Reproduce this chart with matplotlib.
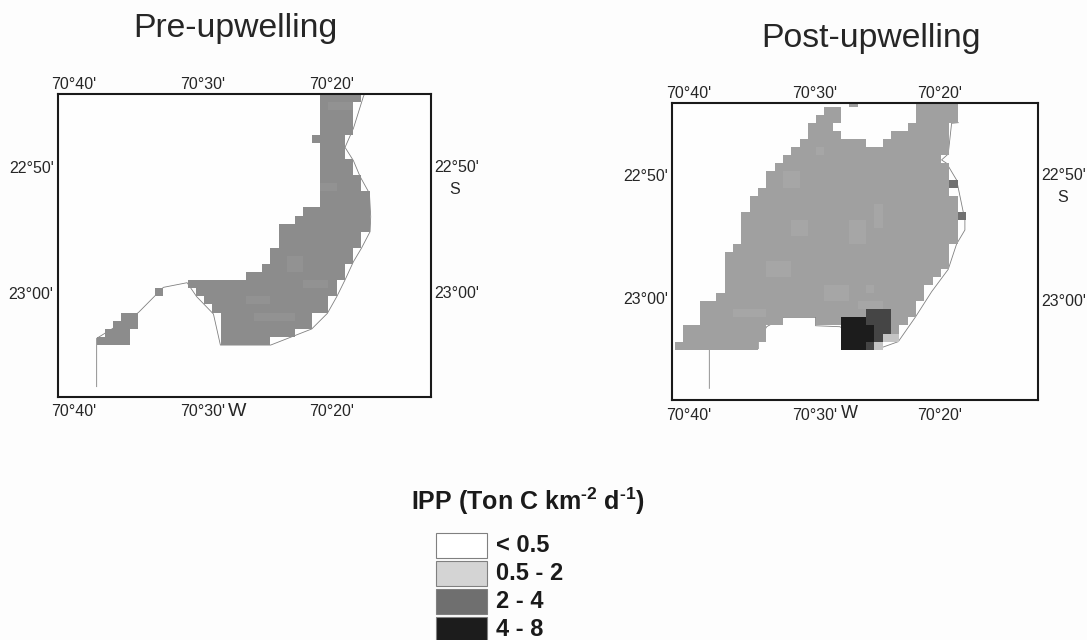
import numpy as np
import matplotlib
matplotlib.use('Agg')
import matplotlib.pyplot as plt
from matplotlib.colors import ListedColormap
from matplotlib.patches import Rectangle

plt.rcParams['font.family'] = ['Liberation Sans', 'DejaVu Sans']
plt.rcParams['mathtext.fontset'] = 'custom'
plt.rcParams['mathtext.bf'] = 'Liberation Sans:bold'
plt.rcParams['mathtext.rm'] = 'Liberation Sans:bold'

# ticks, minutes past 70 deg W and past 22 deg S
lon_ticks = [40, 30, 20]
lon_labels = ["70°40'", "70°30'", "70°20'"]
pre_lat_ticks = [50.25, 60.25]
post_lat_ticks = [50, 60]
lat_labels = ["22°50'", "23°00'"]

classes = ['< 0.5', '0.5 - 2', '2 - 4', '4 - 8']
class_colors = ['#ffffff', '#d4d4d4', '#6f6f6f', '#1c1c1c']

# grid cells in class 2 - 4 of each panel: (row, first col, end col)
pre_rows = [(0, 27, 32), (1, 27, 31), (2, 27, 31), (3, 27, 31), (4, 27, 31),
            (5, 26, 30), (6, 27, 30), (7, 27, 30), (8, 27, 31), (9, 27, 31),
            (10, 27, 32), (11, 27, 32), (12, 27, 33), (13, 27, 33), (14, 25, 33),
            (15, 24, 33), (16, 22, 33), (17, 22, 32), (18, 22, 32), (19, 21, 31),
            (20, 21, 31), (21, 20, 30), (22, 18, 30), (23, 11, 29), (24, 12, 29),
            (24, 7, 8), (25, 13, 28), (26, 14, 28), (27, 15, 26), (27, 3, 5),
            (28, 15, 26), (28, 2, 5), (29, 15, 24), (29, 1, 4), (30, 15, 21),
            (30, 0, 4)]
# paler streaks inside that class
pre_pale = [(20, 23, 25), (21, 23, 25), (23, 25, 28), (27, 19, 24), (11, 27, 29),
            (1, 28, 31), (25, 18, 21)]

post_rows = [(0, 29, 34), (0, 21, 22), (1, 18, 20), (1, 29, 34), (2, 17, 20),
             (2, 29, 34), (3, 16, 19), (3, 28, 33), (4, 16, 20), (4, 26, 33),
             (5, 15, 23), (5, 25, 33), (6, 14, 33), (7, 13, 32), (8, 12, 33),
             (9, 11, 33), (10, 11, 34), (11, 10, 33), (12, 9, 34), (13, 9, 34),
             (14, 8, 35), (15, 8, 34), (16, 8, 34), (17, 8, 34), (18, 7, 33),
             (19, 6, 33), (20, 6, 33), (21, 6, 32), (22, 6, 31), (23, 6, 30),
             (24, 5, 30), (25, 3, 29), (26, 3, 29), (27, 3, 13), (27, 17, 28),
             (28, 1, 11), (28, 20, 27), (29, 1, 11), (29, 20, 27), (30, 0, 10),
             (30, 20, 25)]
post_pale = [(9, 13, 15), (10, 13, 15), (15, 14, 16), (16, 14, 16), (20, 11, 14),
             (21, 11, 14), (23, 18, 21), (24, 18, 21), (23, 23, 24), (26, 7, 11),
             (15, 21, 23), (16, 21, 23), (17, 21, 23), (13, 24, 25), (14, 24, 25),
             (15, 24, 25), (6, 17, 18), (25, 22, 25)]
post_mid = [(14, 34, 35), (10, 33, 34)]
post_black = [(27, 20, 23), (28, 20, 24), (29, 20, 24), (30, 20, 23)]
post_dark = [(26, 23, 26), (27, 23, 26), (28, 24, 26), (29, 24, 25), (30, 23, 24)]
post_light = [(30, 24, 25), (29, 25, 27)]

# coastline, lon and lat in minutes
pre_coast_lon = [38.22, 38.22, 38.22, 34.99, 33.05, 31.21, 30.47, 29.17, 28.63, 24.73,
                 21.55, 20.34, 19.61, 18.97, 18.32, 17.70, 17.03, 16.98, 17.08, 17.80,
                 18.32, 18.97, 18.32, 17.55, 17.47]
pre_coast_lat = [67.69, 64.38, 63.85, 61.80, 59.79, 59.42, 60.53, 61.91, 64.38, 64.38,
                 63.10, 61.86, 60.53, 59.20, 57.75, 56.68, 55.36, 54.16, 52.31, 50.98,
                 49.71, 48.65, 47.14, 44.62, 44.43]
post_coast_lon = [38.38, 38.38, 34.48, 34.48, 33.81, 32.48, 29.91, 29.91, 27.97, 25.05,
                  23.32, 21.97, 20.66, 19.34, 18.67, 18.01, 18.01, 18.67, 19.47, 19.87,
                  19.34, 19.07, 18.54]
post_coast_lat = [67.30, 64.08, 64.08, 63.51, 62.30, 61.54, 61.54, 62.22, 62.30, 64.14,
                  63.51, 61.54, 59.46, 57.65, 55.59, 54.46, 53.65, 50.41, 49.05, 48.78,
                  48.30, 45.81, 45.76]

W, H = 1087, 640
TEXT = '#262626'
fig = plt.figure(figsize=(W / 100, H / 100), dpi=100, facecolor='#fdfdfd')


def fill(grid, spans, value):
    for r, c0, c1 in spans:
        grid[r, c0:c1] = value


def draw_map(box, xlim, ylim, lat_ticks, grid, lon0, dlon, lat0, dlat, colors,
             coast_lon, coast_lat, bottom_pad, top_pad):
    # box is left, top, right, bottom in pixels
    left, top, right, bottom = box
    ax = fig.add_axes([left / W, 1 - bottom / H, (right - left) / W, (bottom - top) / H])
    lon_edges = lon0 - dlon * np.arange(grid.shape[1] + 1)
    lat_edges = lat0 + dlat * np.arange(grid.shape[0] + 1)
    ax.pcolormesh(lon_edges, lat_edges, np.ma.masked_equal(grid, 0),
                  cmap=ListedColormap(colors), vmin=0.5, vmax=len(colors) + 0.5, zorder=2)
    # coast goes under the cells, only seen where the cells stop
    ax.plot(coast_lon, coast_lat, color='#808080', lw=0.6, zorder=1)
    ax.set_xlim(xlim)
    ax.set_ylim(ylim)
    ax.set_facecolor('#fefefe')
    for s in ax.spines.values():
        s.set_linewidth(1.5)
        s.set_color('#1a1a1a')
    ax.set_xticks(lon_ticks)
    ax.set_xticklabels(lon_labels)
    ax.set_yticks(lat_ticks)
    ax.set_yticklabels(lat_labels)
    ax.tick_params(axis='y', length=0, labelsize=11.5, labelcolor=TEXT, pad=3)
    ax.tick_params(axis='x', length=0, labelsize=11.5, labelcolor=TEXT, pad=bottom_pad)
    top_ax = ax.secondary_xaxis('top')
    top_ax.set_xticks(lon_ticks)
    top_ax.set_xticklabels(lon_labels)
    top_ax.tick_params(length=0, labelsize=11.5, labelcolor=TEXT, pad=top_pad)
    top_ax.spines['top'].set_visible(False)
    return ax


# values in the grids: 1 light, 2 base, 3 pale, 4 mid, 5 dark, 6 black
pre_grid = np.zeros((31, 36), dtype=int)
fill(pre_grid, pre_rows, 2)
fill(pre_grid, pre_pale, 3)
draw_map((57.7, 94.3, 430.7, 396.7), (41.24, 12.33), (68.49, 44.43), pre_lat_ticks, pre_grid,
         38.22, 0.641, 44.43, 0.643,
         ['#c4c4c4', '#8c8c8c', '#929292', '#707070', '#454545', '#1c1c1c'],
         pre_coast_lon, pre_coast_lat, 5, 2)

post_grid = np.zeros((31, 36), dtype=int)
fill(post_grid, post_rows, 2)
fill(post_grid, post_pale, 3)
fill(post_grid, post_mid, 4)
fill(post_grid, post_light, 1)
fill(post_grid, post_dark, 5)
fill(post_grid, post_black, 6)
draw_map((672.3, 103.3, 1038.3, 400), (41.33, 12.16), (68.24, 44.19), post_lat_ticks, post_grid,
         41.13, 0.6627, 43.80, 0.657,
         ['#c4c4c4', '#a0a0a0', '#a6a6a6', '#707070', '#454545', '#1c1c1c'],
         post_coast_lon, post_coast_lat, 6, 1.5)

# overlay in pixel coordinates for titles, side labels and the legend
ov = fig.add_axes([0, 0, 1, 1])
ov.set_xlim(0, W)
ov.set_ylim(H, 0)
ov.axis('off')
ov.patch.set_alpha(0)

ov.text(235.5, 28, 'Pre-upwelling', fontsize=24.3, ha='center', va='center', color=TEXT)
ov.text(871, 38, 'Post-upwelling', fontsize=24.3, ha='center', va='center', color=TEXT)

for x, ys in [(434, (168, 294)), (1041, (176, 301))]:
    for y, lab in zip(ys, lat_labels):
        ov.text(x, y, lab, fontsize=11.5, va='center', color=TEXT)
ov.text(455, 190, 'S', fontsize=11.5, ha='center', va='center', color=TEXT)
ov.text(1063, 198, 'S', fontsize=11.5, ha='center', va='center', color=TEXT)
ov.text(237, 411, 'W', fontsize=14, ha='center', va='center', color=TEXT)
ov.text(849, 414, 'W', fontsize=13, ha='center', va='center', color=TEXT)

ov.text(528, 501, r'IPP (Ton C km$^{\text{-2}}$ d$^{\text{-1}}$)', fontsize=18,
        fontweight='bold', ha='center', va='center', color='#1a1a1a')

for i, (lab, col) in enumerate(zip(classes, class_colors)):
    y = 533 + 28 * i
    ov.add_patch(Rectangle((436, y), 50.5, 25, facecolor=col, edgecolor='#808080', lw=0.8))
    ov.text(496, y + 12, lab, fontsize=17, fontweight='bold', va='center', color='#1a1a1a')

fig.savefig('out.png', dpi=100, facecolor=fig.get_facecolor())
